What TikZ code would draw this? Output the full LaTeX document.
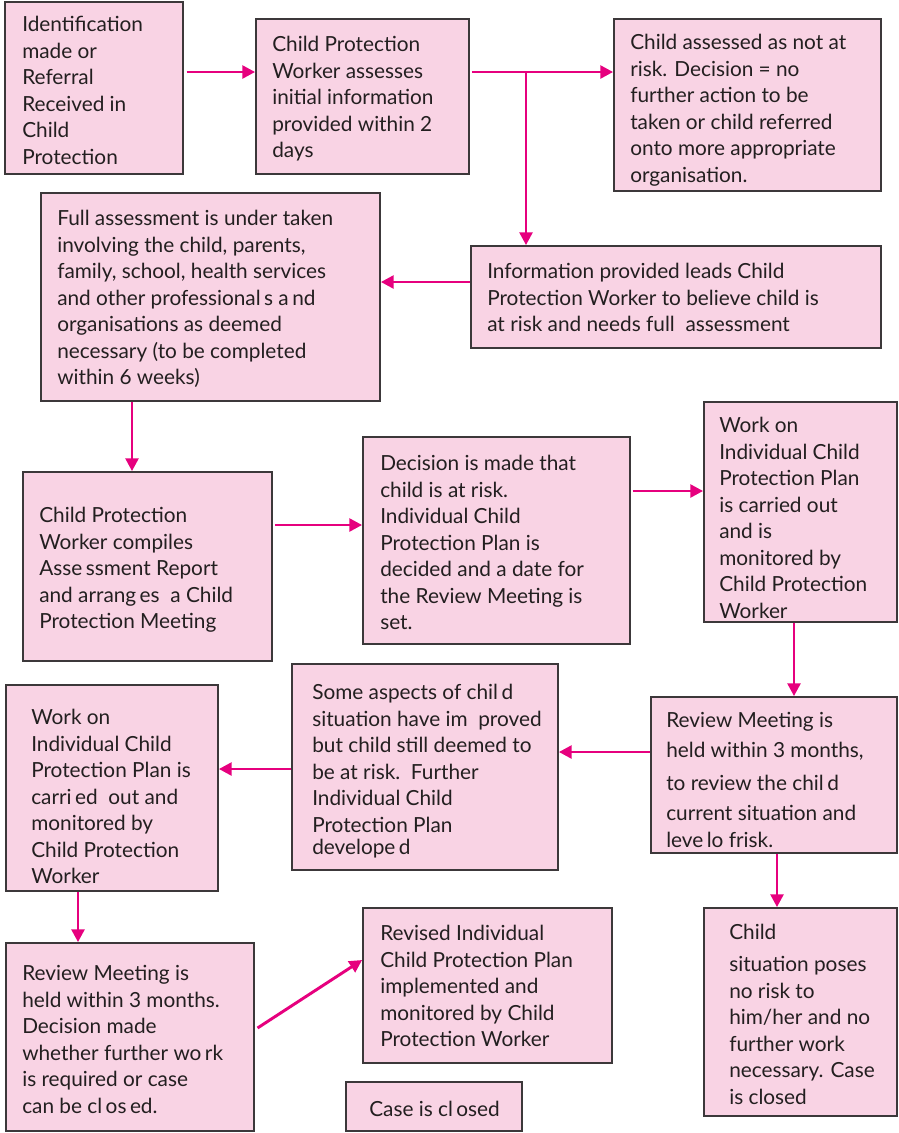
\documentclass[tikz,border=0pt]{standalone}
\usepackage{fontspec}
\setmainfont{Lato}
\usetikzlibrary{arrows.meta,fit}
\definecolor{boxpink}{RGB}{249,211,228}
\definecolor{boxline}{RGB}{60,56,58}
\definecolor{flowpink}{RGB}{230,0,126}
\definecolor{textgray}{RGB}{35,31,32}
\begin{document}
\begin{tikzpicture}[x=0.75pt,y=-0.75pt,
  box/.style={draw=boxline,fill=boxpink,line width=1.3pt,inner sep=0pt},
  txt/.style={anchor=north west,inner sep=0pt,align=left,text=textgray,
    font=\fontsize{15.6}{19.9}\selectfont},
  arr/.style={draw=flowpink,line width=2.2pt,
    -{Triangle[length=9.5pt,width=9.5pt]}}]
\useasboundingbox (0,0) rectangle (899,1133);
\fill[white] (0,0) rectangle (899,1133);

% boxes
\node[box,fit={(5,2) (183,174)}] (A) {};
\node[box,fit={(256,19) (469,174)}] (B) {};
\node[box,fit={(614,19) (881,191)}] (C) {};
\node[box,fit={(471,246) (881,348)}] (D) {};
\node[box,fit={(41,193) (380,401)}] (E) {};
\node[box,fit={(23,472) (272,661)}] (F) {};
\node[box,fit={(363,437) (630,644)}] (G) {};
\node[box,fit={(704,402) (897,622)}] (H) {};
\node[box,fit={(651,697) (897,853)}] (I) {};
\node[box,fit={(292,664) (558,870)}] (J) {};
\node[box,fit={(6,685) (218,891)}] (K) {};
\node[box,fit={(6,943) (254,1131)}] (L) {};
\node[box,fit={(363,908) (612,1063)}] (M) {};
\node[box,fit={(346,1082) (522,1131)}] (N) {};
\node[box,fit={(704,908) (897,1116)}] (O) {};

% texts
\node[txt] (A-t) at (22,16) {Identification\\made or\\Referral\\Received in\\Child\\Protection};
\node[txt] (B-t) at (272,36) {Child Protection\\Worker assesses\\initial information\\provided within 2\\days};
\node[txt] (C-t) at (630,34) {Child assessed as not at\\risk. Decision = no\\further action to be\\taken or child referred\\onto more appropriate\\organisation.};
\node[txt] (D-t) at (487,263) {Information provided leads Child\\Protection Worker to believe child is\\at risk and needs full\ \ assessment};
\node[txt] (E-t) at (57,210) {Full assessment is under taken\\involving the child, parents,\\family, school, health services\\and other professional\,s a\,nd\\organisations as deemed\\necessary (to be completed\\within 6 weeks)};
\node[txt] (F-t) at (39,507) {Child Protection\\Worker compiles\\Asse\,ssment Report\\and arrang\,es\ \ a Child\\Protection Meeting};
\node[txt] (G-t) at (380,455) {Decision is made that\\child is at risk.\\Individual Child\\Protection Plan is\\decided and a date for\\the Review Meeting is\\set.};
\node[txt] (H-t) at (719,417) {Work on\\Individual Child\\Protection Plan\\is carried out\\and is\\monitored by\\Child Protection\\Worker};
\node[txt] (I-t) at (666,712) {Review Meeting is\\[2.6pt]held within 3 months,\\[4.9pt]to review the chil\,d\\[2.6pt]current situation and\\[0.4pt]leve\,lo frisk.};
\node[txt] (J-t) at (312,684) {Some aspects of chil\,d\\situation have im\ \ proved\\but child still deemed to\\be at risk.\ \ Further\\Individual Child\\Protection Plan\\[-3.4pt]develope\,d};
\node[txt] (K-t) at (31,709) {Work on\\Individual Child\\Protection Plan is\\carri\,ed\ \ out and\\monitored by\\Child Protection\\Worker};
\node[txt] (L-t) at (22,965) {Review Meeting is\\held within 3 months.\\Decision made\\whether further wo\,rk\\is required or case\\can be cl\,os\,ed.};
\node[txt] (M-t) at (380,925) {Revised Individual\\Child Protection Plan\\implemented and\\monitored by Child\\Protection Worker};
\node[txt] (N-t) at (369,1101) {Case is cl\,osed};
\node[txt] (O-t) at (729,924) {Child\\[4.1pt]situation poses\\no risk to\\him/her and no\\further work\\necessary. Case\\is closed};

% connectors
\coordinate (split) at (526,72);
\draw[arr] ([xshift=2pt]A.east |- 0,72) -- (B.west |- 0,72);
\draw[arr] ([xshift=1.5pt]B.east |- 0,72) -- (C.west |- 0,72);
\draw[arr] (split) -- (split |- D.north);
\draw[arr] (D.west |- 0,282) -- (E.east |- 0,282);
\draw[arr] (E.south -| 132,0) -- (F.north -| 132,0);
\draw[arr] ([xshift=1.5pt]F.east |- 0,525) -- (G.west |- 0,525);
\draw[arr] ([xshift=1.5pt]G.east |- 0,491) -- (H.west |- 0,491);
\draw[arr] (H.south -| 794,0) -- (I.north -| 794,0);
\draw[arr] (I.west |- 0,752) -- (J.east |- 0,752);
\draw[arr] (J.west |- 0,769) -- (K.east |- 0,769);
\draw[arr] (K.south -| 78,0) -- (L.north -| 78,0);
\draw[arr] (I.south -| 777,0) -- (O.north -| 777,0);
\draw[arr] ([xshift=2pt]L.east |- 0,1028) -- (M.west |- 0,960);
\end{tikzpicture}
\end{document}
